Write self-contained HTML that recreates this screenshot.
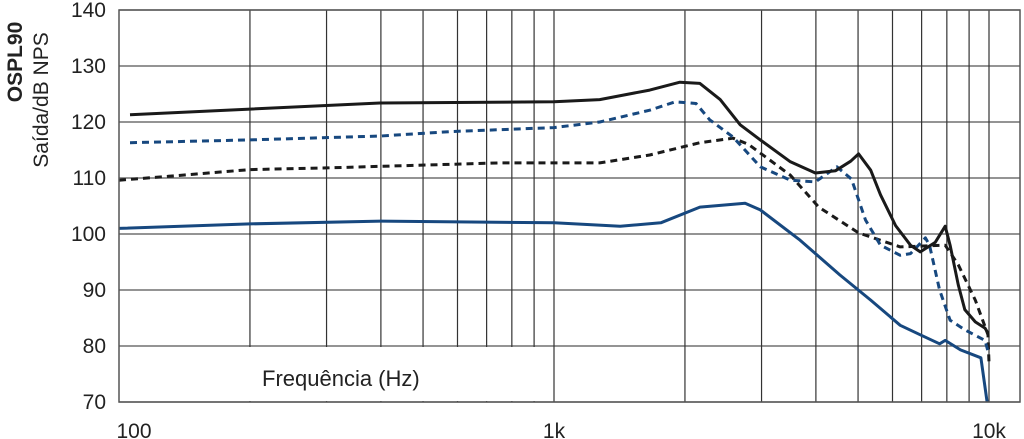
<!DOCTYPE html>
<html><head><meta charset="utf-8"><style>
html,body{margin:0;padding:0;background:#fff;}
svg{display:block;font-family:"Liberation Sans",sans-serif;}
</style></head><body>
<svg id="chart" width="1024" height="439" viewBox="0 0 1024 439" xmlns="http://www.w3.org/2000/svg">
<g id="grid"></g>
<rect x="120.5" y="347" width="429" height="54" fill="#fff"/>
<g id="series"></g>
<rect x="119" y="10" width="901" height="392" fill="none" stroke="#555" stroke-width="1.5"/>
<g id="yticks"></g>
<g id="xticks"></g>
<text x="262" y="386" font-size="22" fill="#222">Frequência (Hz)</text>
<text transform="translate(22,62) rotate(-90)" text-anchor="middle" font-size="21" font-weight="bold" fill="#222">OSPL90</text>
<text transform="translate(48,100) rotate(-90)" text-anchor="middle" font-size="21" fill="#222">Saída/dB NPS</text>
</svg>
<script>
const yTicks=[70,80,90,100,110,120,130,140];
const xTickLabels=["100","1k","10k"];
const xTickValues=[100,1000,10000];
const blackSolidF=[106,200,398,1000,1274,1660,1947,2165,2410,2680,2980,3495,3990,4440,4810,5015,5345,5630,6100,6600,6950,7520,7930,8140,8500,8800,9300,9790,9945];
const blackSolidV=[121.3,122.3,123.4,123.6,124,125.7,127.1,126.9,124,119.5,116.8,112.9,110.9,111.3,113,114.3,111.4,107,101.5,98,96.8,98.5,101.4,98,90.9,86.5,84.3,83.2,82.3];
const blueDashF=[106,200,400,584,1000,1274,1660,1900,2120,2280,2580,2980,3495,3990,4470,4830,5200,5630,6250,6600,7140,7300,7700,8140,8800,9790,10000];
const blueDashV=[116.3,116.8,117.5,118.3,119,120,122.1,123.6,123.3,120.4,117.3,112,109.6,109.3,112,109.8,102.5,98,96.2,96.5,99.3,98,90,84.6,82.9,81,78.4];
const blackDashF=[100,130,200,300,750,1274,1660,2165,2580,2800,3495,4060,5015,6250,7930,8500,9300,9945,10000];
const blackDashV=[109.6,110.3,111.5,111.8,112.7,112.7,114.1,116.3,117.1,116,110.5,104.8,100.2,97.7,98,94.5,88.2,82,77];
const blueSolidF=[100,200,400,1000,1420,1760,2165,2750,2980,3680,4540,5345,6250,6950,7700,7930,8600,9580,9900];
const blueSolidV=[101,101.8,102.3,102,101.4,102,104.8,105.5,104.3,98.9,92.7,88.2,83.7,82,80.4,81,79.3,77.9,70];

const X0=119,DEC=435,Y0=10,PXDB=5.6,XR=1020;
const xs=f=>X0+DEC*Math.log10(f/100);
const ys=v=>Y0+(140-v)*PXDB;
const NS="http://www.w3.org/2000/svg";
function mk(tag,parent){const e=document.createElementNS(NS,tag);parent.appendChild(e);return e;}
const grid=document.getElementById('grid');
yTicks.forEach(v=>{const l=mk('line',grid);


l.setAttribute('x1',X0);l.setAttribute('x2',XR);l.setAttribute('y1',ys(v));l.setAttribute('y2',ys(v));l.setAttribute('stroke','#555');l.setAttribute('stroke-width','1.3');});
for(let d=100;d<=10000;d*=10){for(let m=1;m<=9;m++){const f=d*m;const x=xs(f);if(x>=XR-1||f<=100)continue;const l=mk('line',grid);


l.setAttribute('x1',x);l.setAttribute('x2',x);l.setAttribute('y1',Y0);l.setAttribute('y2',ys(70));l.setAttribute('stroke','#333');l.setAttribute('stroke-width','1.2');}}
const yt=document.getElementById('yticks');
yTicks.forEach(v=>{const t=mk('text',yt);


t.setAttribute('x',106);t.setAttribute('y',ys(v)+7);t.setAttribute('text-anchor','end');t.setAttribute('font-size','21');t.setAttribute('fill','#222');t.textContent=v;});
const xt=document.getElementById('xticks');
xTickValues.forEach((f,i)=>{const t=mk('text',xt);


let x=xs(f);if(i==0)x+=15;
t.setAttribute('x',x);t.setAttribute('y',438);t.setAttribute('text-anchor','middle');t.setAttribute('font-size','21');t.setAttribute('fill','#222');t.textContent=xTickLabels[i];});
const ser=document.getElementById('series');
function line(F,V,color,dash,name){const p=mk('path',ser);


p.setAttribute('d',F.map((f,i)=>(i?'L':'M')+xs(f).toFixed(1)+','+ys(V[i]).toFixed(1)).join(''));
p.setAttribute('fill','none');p.setAttribute('stroke',color);p.setAttribute('stroke-width','3');p.setAttribute('stroke-linejoin','round');
if(dash)p.setAttribute('stroke-dasharray','7,5');}
line(blueSolidF,blueSolidV,'#17487f',false,'series-blue-solid');
line(blackDashF,blackDashV,'#1a1a1a',true,'series-black-dashed');
line(blueDashF,blueDashV,'#17487f',true,'series-blue-dashed');
line(blackSolidF,blackSolidV,'#1a1a1a',false,'series-black-solid');
</script>
</body></html>
